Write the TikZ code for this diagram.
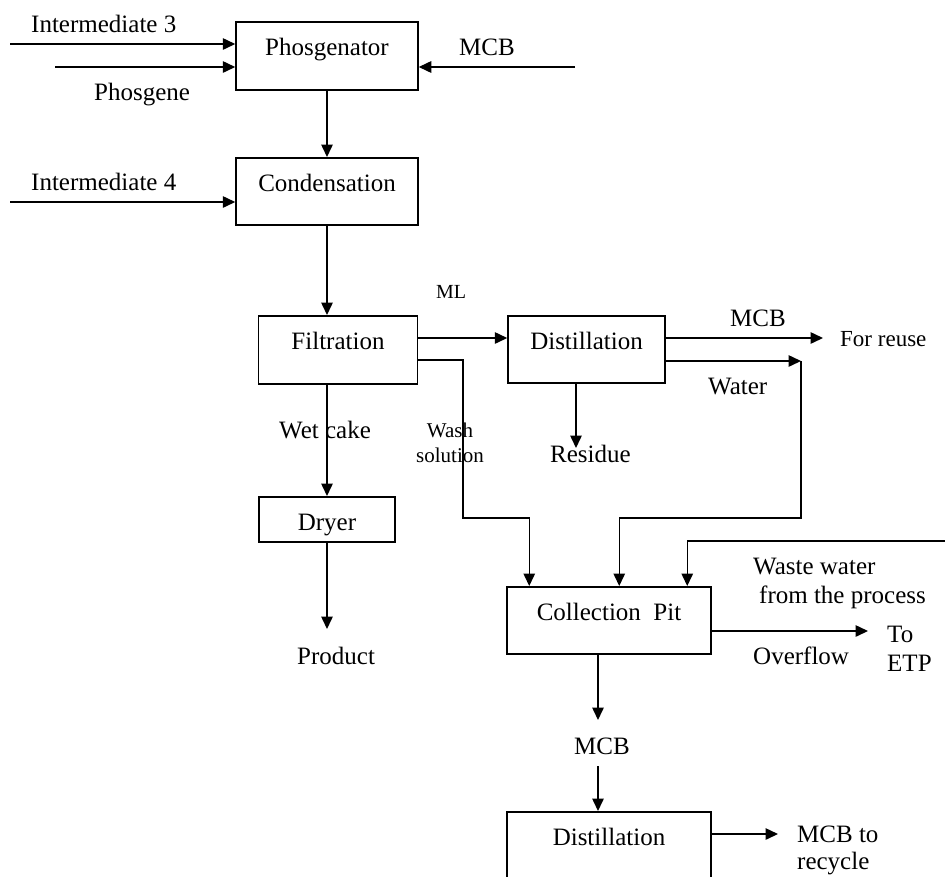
\documentclass[tikz,border=0pt]{standalone}
\usepackage{fontspec}
\setmainfont{Liberation Serif}
\usepackage{tikz}
\usetikzlibrary{shapes,arrows.meta,positioning,calc}

\begin{document}
\begin{tikzpicture}[x=1pt, y=-1pt,
    font=\fontsize{25}{29}\selectfont,
    stagebox/.style={rectangle, draw, line width=1.5pt, inner sep=0pt, anchor=north, text height=33.5pt, text depth=#1},
    tag/.style={anchor=base west, inner sep=0pt},
    smalltag/.style={inner sep=0pt, font=\fontsize{21}{25}\selectfont},
    flowarrow/.style={-{Triangle[length=12.5pt,width=11.5pt]}, line width=1.5pt}]
  \useasboundingbox (0,0) rectangle (945,876);
  \clip (0,0) rectangle (945,876);

  \node[stagebox=34.5pt, minimum width=182pt] (phos) at (327,21) {Phosgenator};
  \node[stagebox=33.5pt, minimum width=182pt] (cond) at (327,157) {Condensation};
  \node[stagebox=34.5pt, minimum width=159pt] (filt) at (338,315) {Filtration};
  \node[stagebox=33.5pt, minimum width=157pt] (dist) at (586.5,315) {Distillation};
  \node[stagebox=11.5pt, minimum width=136pt] (dryer) at (327,496) {Dryer};
  \node[stagebox=33.5pt, minimum width=204pt] (pit) at (609,586) {Collection\ \ Pit};
  \node[stagebox=60pt, minimum width=204pt] (dist2) at (609,811) {Distillation};

  \node[tag] (int3) at (31,32) {Intermediate 3};
  \node[tag] (phosgene) at (94,100) {Phosgene};
  \node[tag] (mcb1) at (459,55) {MCB};
  \node[tag] (int4) at (31,190) {Intermediate 4};
  \node[tag, font=\fontsize{20}{24}\selectfont] (ml) at (436,298) {ML};
  \node[tag] (mcb2) at (730,326) {MCB};
  \node[tag, font=\fontsize{23}{27}\selectfont] (reuse) at (840,346) {For reuse};
  \node[tag] (water) at (708,394) {Water};
  \node[tag] (wet) at (279,438) {Wet cake};
  \node[smalltag, anchor=base, align=center] (wash) at (450,462) {Wash\\solution};
  \node[tag] (residue) at (550,462) {Residue};
  \node[tag] (product) at (297,664) {Product};
  \node[tag, align=left] (waste) at (753,603) {Waste water\\\hspace*{6pt}from the process};
  \node[tag] (overflow) at (753,664) {Overflow};
  \node[tag, align=left] (etp) at (887,671) {To\\ETP};
  \node[tag] (mcb3) at (574,754) {MCB};
  \node[tag, align=left, font=\fontsize{25}{27}\selectfont] (recycle) at (797,869) {MCB to\\recycle};

  \coordinate (in3) at (10,44);
  \coordinate (gasIn) at (55,67);
  \coordinate (mcbIn) at (575,67);
  \coordinate (in4) at (10,202);
  \coordinate (reuseEnd) at (823,338);
  \coordinate (waterK) at (801,361);
  \coordinate (waterL) at (801,518);
  \coordinate (washK) at (463,518);
  \coordinate (resEnd) at (576,448);
  \coordinate (prodEnd) at (327,629);
  \coordinate (wasteIn) at (948,541);
  \coordinate (etpEnd) at (868,631);
  \coordinate (mcbEnd) at (598,720);
  \coordinate (mcbTop) at (598,766);
  \coordinate (recEnd) at (778,834);

  \draw[flowarrow] (in3) -- (in3 -| phos.west);
  \draw[flowarrow] (gasIn) -- (gasIn -| phos.west);
  \draw[flowarrow] (mcbIn) -- (mcbIn -| phos.east);
  \draw[flowarrow] (phos.south) -- (cond.north);
  \draw[flowarrow] (in4) -- (in4 -| cond.west);
  \draw[flowarrow] (cond.south) -- (cond.south |- filt.north);
  \draw[flowarrow] ($(filt.north east)+(0,23)$) -- ($(dist.north west)+(0,23)$);
  \draw[flowarrow] ($(dist.north east)+(0,23)$) -- (reuseEnd);
  \draw[flowarrow] ($(dist.north east)+(0,46)$) -- (waterK);
  \draw[flowarrow] (waterK) -- (waterL) -| ($(pit.north west)+(113,0)$);
  \draw[flowarrow] ($(filt.north east)+(0,45)$) -| (washK) -| ($(pit.north west)+(23,0)$);
  \draw[flowarrow] (resEnd |- dist.south) -- (resEnd);
  \draw[flowarrow] (filt.south -| dryer.north) -- (dryer.north);
  \draw[flowarrow] (dryer.south) -- (prodEnd);
  \draw[flowarrow] (wasteIn) -| ($(pit.north west)+(181,0)$);
  \draw[flowarrow] ($(pit.north east)+(0,45)$) -- (etpEnd);
  \draw[flowarrow] (mcbEnd |- pit.south) -- (mcbEnd);
  \draw[flowarrow] (mcbTop) -- (mcbTop |- dist2.north);
  \draw[flowarrow] ($(dist2.north east)+(0,23)$) -- (recEnd);
\end{tikzpicture}
\end{document}
